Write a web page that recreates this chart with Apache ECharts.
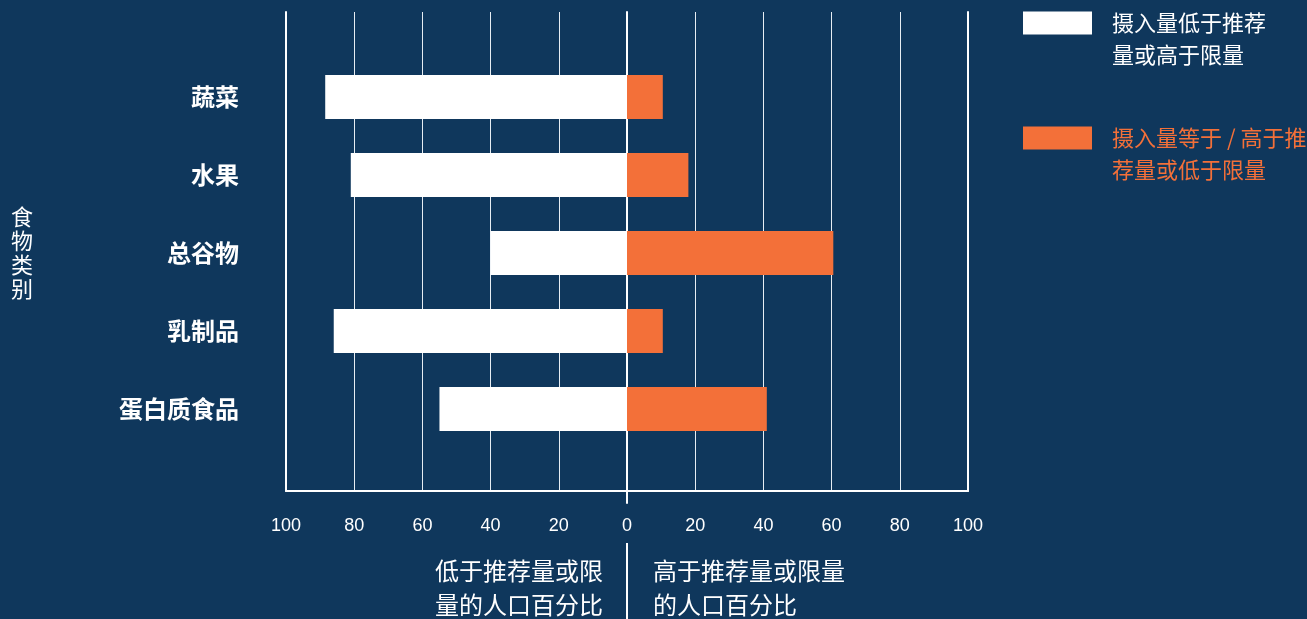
<!DOCTYPE html>
<html lang="zh-CN">
	<head>
		<meta charset="utf-8" />
		<title>食物类别摄入量</title>
		<style>
			html, body { margin: 0; padding: 0; background: #0f375c; }
		</style>
	</head>
	<body>
		<div id="main" style="width: 1307px; height: 619px;"></div>

		<script src="https://cdn.jsdelivr.net/npm/echarts@6/dist/echarts.min.js"></script>
		<script type="text/javascript">
			// 数据
			const categories = ['蔬菜', '水果', '总谷物', '乳制品', '蛋白质食品'];
			const belowShare = [88.5, 81, 40, 86, 55];       // 低于推荐量或高于限量
			const aboveShare = [10.5, 18, 60.5, 10.5, 41];   // 等于/高于推荐量或低于限量
			const tickValues = [-100, -80, -60, -40, -20, 0, 20, 40, 60, 80, 100];

			const nameBelow = '摄入量低于推荐\n量或高于限量';
			const nameAbove = '摄入量等于 / 高于推\n荐量或低于限量';

			const bg = '#0f375c';
			const orange = '#f37039';
			const cjk = '"Noto Sans CJK SC", "Noto Sans", sans-serif';

			const myChart = echarts.init(document.getElementById('main'));

			const option = {
				backgroundColor: bg,
				animation: false,
				textStyle: { fontFamily: cjk },
				grid: [
					// 外框 + 网格线
					{ left: 286, right: 339, top: 12, bottom: 128 },
					// 柱子
					{ left: 286, right: 339, top: 58, bottom: 171 },
					// 零线
					{ left: 286, right: 339, top: 12, bottom: 116 }
				],
				legend: {
					orient: 'vertical',
					left: 1023,
					top: -25,
					padding: 0,
					itemWidth: 69,
					itemHeight: 23,
					itemGap: 19,
					icon: 'rect',
					selectedMode: false,
					// 前面加一个空行，让第一行文字与色块对齐
					formatter: (name) => '\n' + name,
					textStyle: {
						fontFamily: cjk,
						fontSize: 22,
						lineHeight: 32,
						padding: [0, 0, 0, 15]
					},
					data: [
						{ name: nameBelow, textStyle: { color: '#ffffff' } },
						{ name: nameAbove, textStyle: { color: orange } }
					]
				},
				title: [
					{
						text: '低于推荐量或限\n量的人口百分比',
						left: 435,
						top: 554,
						padding: 0,
						textStyle: { color: '#fff', fontSize: 24, fontWeight: 'normal', lineHeight: 34, fontFamily: cjk }
					},
					{
						text: '高于推荐量或限量\n的人口百分比',
						left: 653,
						top: 554,
						padding: 0,
						textStyle: { color: '#fff', fontSize: 24, fontWeight: 'normal', lineHeight: 34, fontFamily: cjk }
					}
				],
				xAxis: [
					{
						gridIndex: 0,
						type: 'value',
						min: tickValues[0],
						max: tickValues[tickValues.length - 1],
						interval: 20,
						axisLine: { show: true, onZero: false, lineStyle: { color: '#fff', width: 2 } },
						axisTick: { show: false },
						splitLine: { show: true, lineStyle: { color: '#e6edf3', width: 1 } },
						axisLabel: {
							color: '#fff',
							fontSize: 18,
							fontFamily: '"Liberation Sans", Arial, sans-serif',
							margin: 26,
							formatter: (v) => String(Math.abs(v))
						}
					},
					{ gridIndex: 1, type: 'value', min: -100, max: 100, show: false },
					{ gridIndex: 2, type: 'value', min: -100, max: 100, show: false }
				],
				yAxis: [
					{
						gridIndex: 0,
						type: 'value',
						position: 'left',
						axisLine: { show: true, onZero: false, lineStyle: { color: '#fff', width: 2 } },
						axisTick: { show: false },
						axisLabel: { show: false },
						splitLine: { show: false }
					},
					{
						gridIndex: 0,
						type: 'value',
						position: 'right',
						axisLine: { show: true, onZero: false, lineStyle: { color: '#fff', width: 2 } },
						axisTick: { show: false },
						axisLabel: { show: false },
						splitLine: { show: false }
					},
					{
						gridIndex: 1,
						type: 'category',
						inverse: true,
						data: categories,
						axisLine: { show: false },
						axisTick: { show: false },
						axisLabel: {
							color: '#fff',
							fontSize: 24,
							fontWeight: 'bold',
							fontFamily: cjk,
							margin: 47,
							padding: [4, 0, 0, 0]
						},
						name: '食\n物\n类\n别',
						nameLocation: 'middle',
						nameRotate: 0,
						nameGap: 264,
						nameTextStyle: {
							color: '#fff',
							fontSize: 22,
							lineHeight: 24,
							align: 'center',
							verticalAlign: 'middle',
							fontFamily: cjk
						}
					},
					{
						gridIndex: 2,
						type: 'value',
						axisLine: { show: true, onZero: true, lineStyle: { color: '#fff', width: 2 } },
						axisTick: { show: false },
						axisLabel: { show: false },
						splitLine: { show: false }
					}
				],
				graphic: [
					{
						type: 'line',
						shape: { x1: 627, y1: 543, x2: 627, y2: 619 },
						style: { stroke: '#fff', lineWidth: 2 }
					}
				],
				series: [
					{
						name: nameBelow,
						type: 'bar',
						xAxisIndex: 1,
						yAxisIndex: 2,
						stack: 'share',
						barWidth: 44,
						itemStyle: { color: '#ffffff' },
						data: belowShare.map((v) => -v)
					},
					{
						name: nameAbove,
						type: 'bar',
						xAxisIndex: 1,
						yAxisIndex: 2,
						stack: 'share',
						barWidth: 44,
						itemStyle: { color: orange },
						data: aboveShare
					}
				]
			};

			myChart.setOption(option);
		</script>
	</body>
</html>
